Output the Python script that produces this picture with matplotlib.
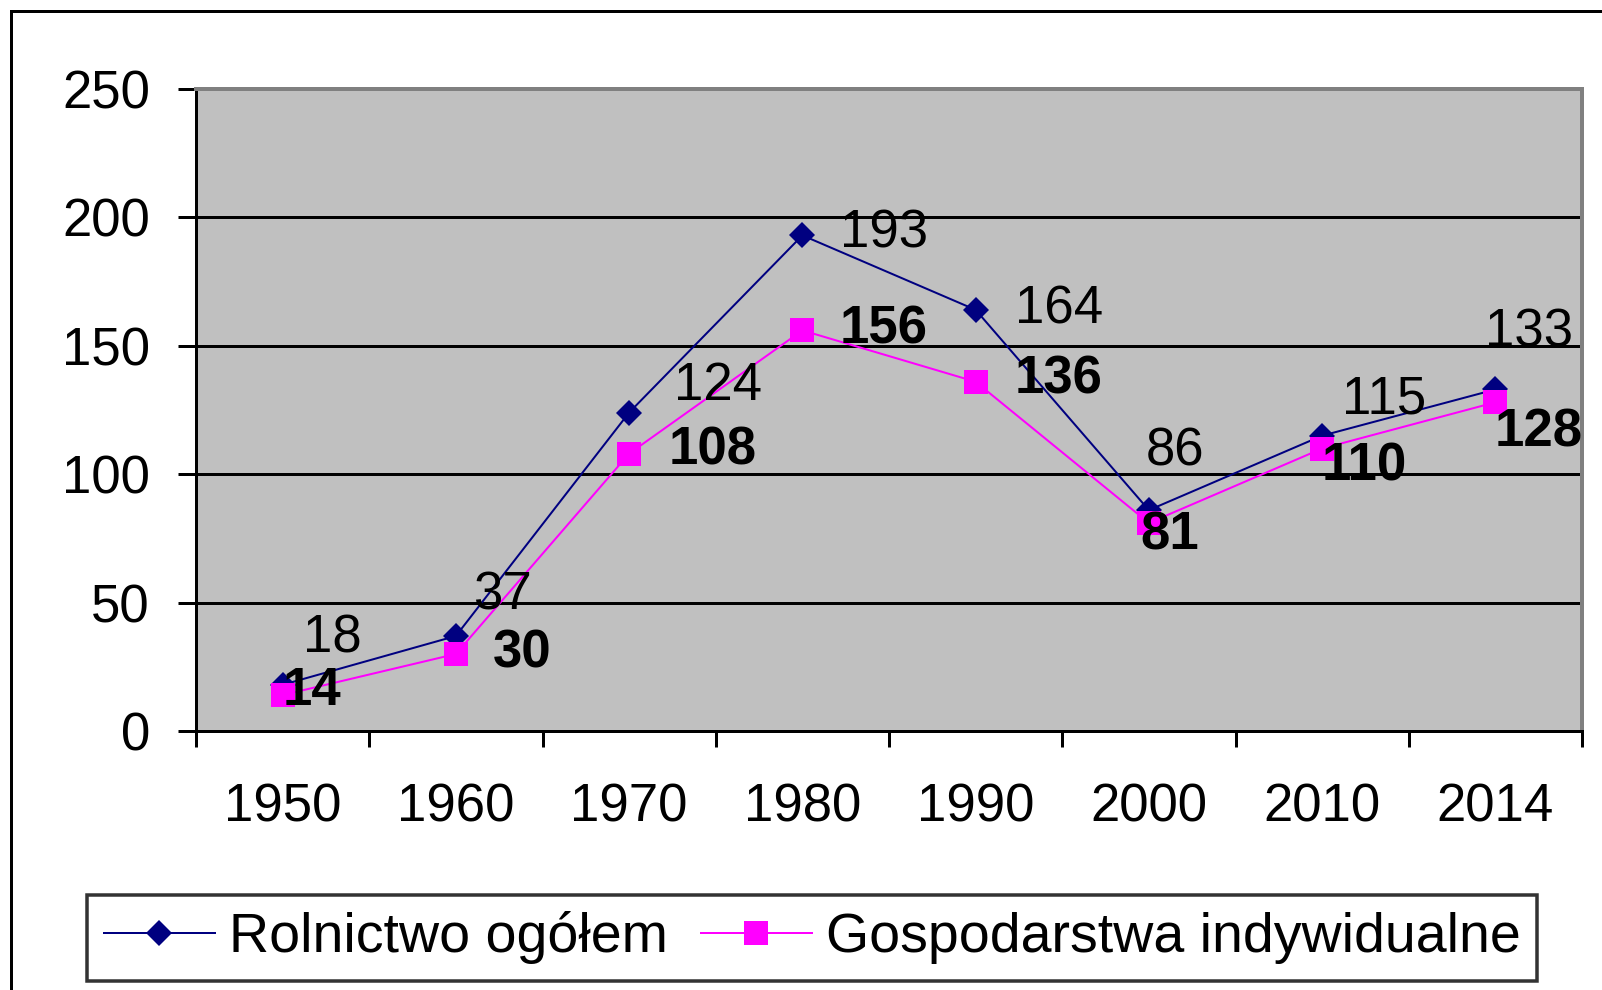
import matplotlib
matplotlib.use("Agg")
import matplotlib.pyplot as plt
from matplotlib.patches import Rectangle
import numpy as np

plt.rcParams['font.family'] = ['Liberation Sans', 'DejaVu Sans']

years = ['1950', '1960', '1970', '1980', '1990', '2000', '2010', '2014']
rolnictwo = [18, 37, 124, 193, 164, 86, 115, 133]
gospodarstwa = [14, 30, 108, 156, 136, 81, 110, 128]
series_names = ['Rolnictwo ogółem', 'Gospodarstwa indywidualne']
yticks = [0, 50, 100, 150, 200, 250]

# label offsets in pixels (layout only)
off_blue = [(50, 46), (47, 40), (89, 27), (82, 2), (83, 0), (26, 59), (62, 36), (34, 57)]
off_pink = [(29, 4), (66, 0), (84, 3), (81, 1), (83, 2), (21, -13), (42, -18), (43, -30)]

W, H = 1602, 990
fig = plt.figure(figsize=(W / 100, H / 100), dpi=100)
fig.patch.set_facecolor('white')

def px(v):
    return v * 0.72

ax = fig.add_axes([196 / W, 1 - 731 / H, (1582 - 196) / W, (731 - 89) / H])
ax.set_facecolor('#C0C0C0')

x = np.arange(len(years))
ax.set_xlim(-0.5, len(years) - 0.5)
ax.set_ylim(0, 250)
ax.set_yticks(yticks)
ax.yaxis.grid(True, color='black', linewidth=px(3))
ax.set_axisbelow(True)

ax.plot(x, rolnictwo, color='#000080', linewidth=px(2), marker='D',
        markersize=px(19), markeredgewidth=0, label=series_names[0], zorder=3)
ax.plot(x, gospodarstwa, color='#FF00FF', linewidth=px(2), marker='s',
        markersize=px(24), markeredgewidth=0, label=series_names[1], zorder=4)

fs = 38
for i, v in enumerate(rolnictwo):
    ax.annotate(str(v), (x[i], v), xytext=off_blue[i], textcoords='offset pixels',
                ha='center', va='center', fontsize=fs, color='black', zorder=5)
for i, v in enumerate(gospodarstwa):
    ax.annotate(str(v), (x[i], v), xytext=off_pink[i], textcoords='offset pixels',
                ha='center', va='center', fontsize=fs, fontweight='bold', color='black', zorder=5)

# ticks
ax.set_xticks(x)
ax.set_xticklabels(years)
ax.set_xticks(np.arange(-0.5, len(years)), minor=True)
ax.tick_params(axis='x', which='major', length=0, pad=px(52), labelsize=fs)
ax.tick_params(axis='x', which='minor', length=px(16), width=px(3), direction='out', color='black')
ax.tick_params(axis='y', which='major', length=px(18), width=px(3), direction='out',
               pad=px(28), labelsize=fs, color='black')

for s in ['left', 'bottom']:
    ax.spines[s].set_color('black')
    ax.spines[s].set_linewidth(px(3))
for s in ['top', 'right']:
    ax.spines[s].set_color('#808080')
    ax.spines[s].set_linewidth(px(4))

leg = fig.legend(loc='center', bbox_to_anchor=(812 / W, 1 - 938 / H), ncol=2,
                 fontsize=40, frameon=True, fancybox=False, shadow=False,
                 edgecolor='black', handlelength=2.0, handletextpad=0.25,
                 columnspacing=0.6, borderpad=0.3, borderaxespad=0)
leg.get_frame().set_linewidth(px(3.5))
leg.get_frame().set_facecolor('white')

# outer frame
fig.patches.append(Rectangle((11 / W, -0.1), 1.2, 1 - 11 / H + 0.1, transform=fig.transFigure,
                             fill=False, edgecolor='black', linewidth=px(3), zorder=0))

fig.savefig('out.png', dpi=100, facecolor='white')
